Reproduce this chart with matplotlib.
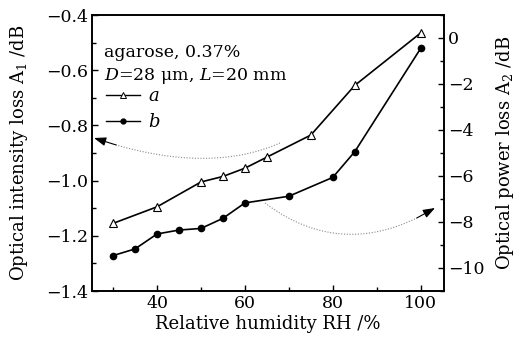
import numpy as np
import matplotlib
matplotlib.use("Agg")
import matplotlib.pyplot as plt
from matplotlib.ticker import MultipleLocator
from matplotlib.lines import Line2D

plt.rcParams['font.family'] = ['DejaVu Serif']
plt.rcParams['mathtext.fontset'] = 'dejavuserif'
plt.rcParams['font.size'] = 12

# Data
rh_a = [30, 40, 50, 55, 60, 65, 75, 85, 100]
loss_a = [-1.155, -1.095, -1.005, -0.985, -0.955, -0.915, -0.835, -0.655, -0.465]
rh_b = [30, 35, 40, 45, 50, 55, 60, 70, 80, 85, 100]
loss_b = [-9.46, -9.17, -8.52, -8.35, -8.28, -7.84, -7.17, -6.88, -6.06, -4.94, -0.45]

xticks = [40, 60, 80, 100]
yticks_left = [-1.4, -1.2, -1.0, -0.8, -0.6, -0.4]
yticks_right = [-10, -8, -6, -4, -2, 0]

W, H = 526, 340
fig = plt.figure(figsize=(W / 100, H / 100), dpi=100)
fig.patch.set_facecolor('white')
ax = fig.add_axes([92 / W, 1 - 291 / H, (444 - 92) / W, (291 - 15) / H])
ax2 = ax.twinx()

ax.plot(rh_a, loss_a, color='black', lw=1.2, marker='^', ms=6,
        mfc='white', mec='black', mew=0.8, zorder=3)
ax2.plot(rh_b, loss_b, color='black', lw=1.2, marker='o', ms=4.5,
         mfc='black', mec='black', zorder=3)

ax.set_xlim(25.2, 105.3)
ax.set_ylim(-1.4, -0.4)
ax2.set_ylim(-11, 1)

ax.set_xticks(xticks)
ax.set_yticks(yticks_left)
ax.set_yticklabels([f"\u2212{abs(v):.1f}" for v in yticks_left])
ax2.set_yticks(yticks_right)
ax2.set_yticklabels([("\u2212" + str(abs(v))) if v < 0 else str(v) for v in yticks_right])
ax.xaxis.set_minor_locator(MultipleLocator(10))
ax.yaxis.set_minor_locator(MultipleLocator(0.1))
ax2.yaxis.set_minor_locator(MultipleLocator(1))

for a in (ax, ax2):
    a.tick_params(which='both', direction='in', width=1.0, labelsize=12.5, pad=3)
    a.tick_params(which='major', length=4)
    a.tick_params(which='minor', length=3)
    for s in a.spines.values():
        s.set_linewidth(1.2)
ax.tick_params(axis='both', which='both', top=False, right=False)
ax2.tick_params(axis='y', which='both', left=False, right=True)

ax.set_xlabel("Relative humidity RH /%", fontsize=13, labelpad=2)
ax.set_ylabel(r"Optical intensity loss A$_\mathregular{1}$ /dB", fontsize=13, labelpad=11)
ax2.set_ylabel(r"Optical power loss A$_\mathregular{2}$ /dB", fontsize=13, labelpad=7)

# annotation text
ax.text(12 / 352, 1 - (57 - 15) / 276, "agarose, 0.37%", transform=ax.transAxes,
        ha='left', va='baseline', fontsize=12.5)
ax.text(12 / 352, 1 - (80 - 15) / 276, r"$D$=28 μm, $L$=20 mm", transform=ax.transAxes,
        ha='left', va='baseline', fontsize=12.5)

h_a = Line2D([], [], color='black', lw=1.0, marker='^', ms=4, mfc='white', mec='black', mew=0.7)
h_b = Line2D([], [], color='black', lw=1.0, marker='o', ms=3.5, mfc='black', mec='black')
leg = ax.legend([h_a, h_b], [r"$a$", r"$b$"], loc='upper left',
                bbox_to_anchor=(14 / 352, 1 - (87 - 15) / 276), frameon=False,
                handlelength=1.9, handletextpad=0.4, labelspacing=0.45, borderaxespad=0,
                borderpad=0, fontsize=13)

# dotted curved arrows
def bez(p0, p1, p2, n=60):
    t = np.linspace(0, 1, n)[:, None]
    p0, p1, p2 = map(np.array, (p0, p1, p2))
    return (1 - t) ** 2 * p0 + 2 * (1 - t) * t * p1 + t ** 2 * p2

def tofrac(p):
    return ((p[0] - 92) / 352, (291 - p[1]) / 276)

for P0, P1, P2 in [((280, 143), (205, 176), (94, 138)),
                   ((265, 203), (345, 263), (435, 208))]:
    pts = bez(tofrac(P0), tofrac(P1), tofrac(P2))
    ax.plot(pts[:-6, 0], pts[:-6, 1], transform=ax.transAxes, color='#888888',
            lw=0.8, ls=(0, (1, 1.5)), zorder=2)
    ax.annotate("", xy=pts[-1], xytext=pts[-7], xycoords='axes fraction',
                textcoords='axes fraction',
                arrowprops=dict(arrowstyle='-|>,head_length=0.6,head_width=0.22',
                                color='black', lw=0.8, shrinkA=0, shrinkB=0))

fig.savefig("out.png", dpi=100, facecolor='white')
